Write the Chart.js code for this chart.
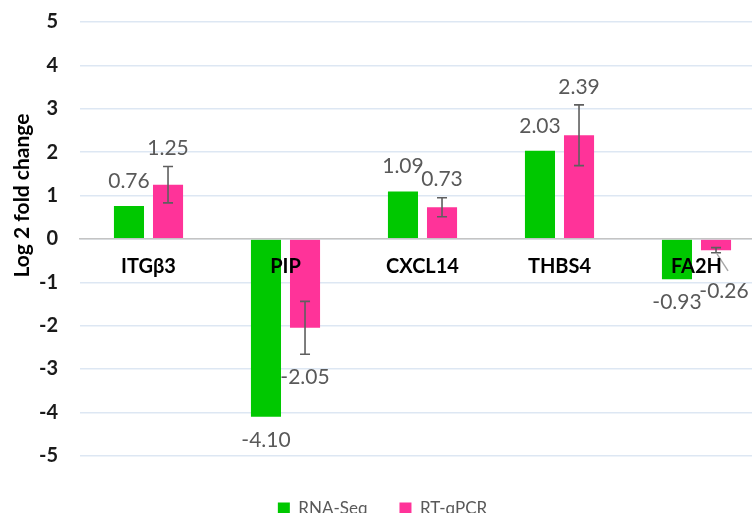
<!DOCTYPE html>
<html>
<head>
<meta charset="utf-8">
<script src="https://cdn.jsdelivr.net/npm/chart.js@4.4.1/dist/chart.umd.min.js"></script>
<style>
	body { margin: 0; background: #fff; overflow: hidden; }
	.wrap { width: 766px; height: 539px; margin-top: -12px; }
</style>
</head>
<body>
<div class="wrap"><canvas id="fold-chart" width="766" height="539"></canvas></div>
<script>
const genes = ['ITGβ3', 'PIP', 'CXCL14', 'THBS4', 'FA2H'];
const rnaSeq = [0.76, -4.10, 1.09, 2.03, -0.93];
const rtqPcr = [1.25, -2.05, 0.73, 2.39, -0.26];
const rtqPcrError = [0.42, 0.61, 0.22, 0.70, 0.06];
const yTicks = [5, 4, 3, 2, 1, 0, -1, -2, -3, -4, -5];
const yTitle = 'Log 2 fold change';

const FONT = 'Lato';
const labelGrey = '#595959';

// error whiskers for the qPCR series
const errorBars = {
	id: 'errorBars',
	afterDatasetsDraw(chart) {
		const { ctx, scales: { y } } = chart;
		const meta = chart.getDatasetMeta(1);
		ctx.save();
		ctx.strokeStyle = '#5f5f5f';
		ctx.lineWidth = 1.6;
		meta.data.forEach((bar, i) => {
			const v = rtqPcr[i];
			const e = rtqPcrError[i];
			const top = y.getPixelForValue(v + e);
			const bot = y.getPixelForValue(v - e);
			ctx.beginPath();
			ctx.moveTo(bar.x, top);
			ctx.lineTo(bar.x, bot);
			ctx.moveTo(bar.x - 5, top);
			ctx.lineTo(bar.x + 5, top);
			ctx.moveTo(bar.x - 5, bot);
			ctx.lineTo(bar.x + 5, bot);
			ctx.stroke();
		});
		ctx.restore();
	},
};

// value labels past the end of each bar (or its whisker)
const valueLabels = {
	id: 'valueLabels',
	afterDatasetsDraw(chart, args, opts) {
		const { ctx, scales: { y } } = chart;
		ctx.save();
		ctx.font = `21px ${FONT}`;
		ctx.fillStyle = labelGrey;
		ctx.textAlign = 'center';
		ctx.textBaseline = 'middle';
		chart.data.datasets.forEach((ds, d) => {
			const meta = chart.getDatasetMeta(d);
			meta.data.forEach((bar, i) => {
				const v = ds.data[i];
				const err = d === 1 ? rtqPcrError[i] : 0;
				let x = bar.x;
				let ly;
				if (v >= 0) {
					ly = y.getPixelForValue(v + err) - (err ? 18 : 25);
				} else {
					ly = y.getPixelForValue(v - err) + 23;
				}
				const nudge = (opts.nudges || []).find((n) => n.dataset === d && n.index === i);
				if (nudge) {
					const startY = y.getPixelForValue(v - err);
					x += nudge.dx;
					ly += nudge.dy;
					// leader line back to the whisker
					ctx.save();
					ctx.strokeStyle = '#a6a6a6';
					ctx.lineWidth = 1.4;
					ctx.beginPath();
					ctx.moveTo(bar.x + 1, startY + 1);
					ctx.lineTo(bar.x + 12, ly - 20);
					ctx.stroke();
					ctx.restore();
				}
				ctx.fillText(v.toFixed(2), x, ly);
			});
		});
		ctx.restore();
	},
};

// rotated y title, sitting a bit above the middle of the axis
const axisTitle = {
	id: 'axisTitle',
	afterDraw(chart) {
		const { ctx, chartArea } = chart;
		const cy = chartArea.top + (chartArea.bottom - chartArea.top) * 0.4;
		ctx.save();
		ctx.translate(22, cy);
		ctx.rotate(-Math.PI / 2);
		ctx.font = `bold 21px ${FONT}`;
		ctx.fillStyle = '#000';
		ctx.textAlign = 'center';
		ctx.textBaseline = 'middle';
		ctx.fillText(yTitle, 0, 0);
		ctx.restore();
	},
};

new Chart(document.getElementById('fold-chart'), {
	type: 'bar',
	data: {
		labels: genes,
		datasets: [
			{
				label: 'RNA-Seq',
				data: rnaSeq,
				backgroundColor: '#00c800',
				borderWidth: 0,
				categoryPercentage: 0.57,
				barPercentage: 0.77,
			},
			{
				label: 'RT-qPCR',
				data: rtqPcr,
				backgroundColor: '#ff3399',
				borderWidth: 0,
				categoryPercentage: 0.57,
				barPercentage: 0.77,
			},
		],
	},
	options: {
		responsive: false,
		animation: false,
		devicePixelRatio: 1,
		layout: {
			padding: { top: 9, right: 1, left: 0, bottom: 0 },
		},
		plugins: {
			tooltip: { enabled: false },
			legend: {
				position: 'bottom',
				title: {
					display: true,
					text: '',
					font: { size: 1 },
					padding: { top: 8, bottom: 3 },
				},
				labels: {
					boxWidth: 12,
					boxHeight: 12,
					padding: 32,
					color: labelGrey,
					font: { family: FONT, size: 17 },
				},
			},
			valueLabels: {
				nudges: [{ dataset: 1, index: 4, dx: 8, dy: 15 }],
			},
		},
		scales: {
			x: {
				position: { y: 0 },
				grid: { display: false, drawTicks: false },
				border: { display: true, color: '#c4c4c4', width: 1.5, z: 1 },
				ticks: {
					z: 2,
					padding: 16,
					color: '#000',
					font: { family: FONT, size: 20, weight: 'bold' },
				},
			},
			y: {
				min: -5,
				max: 5,
				afterFit(scale) {
					scale.width = 80;
				},
				afterBuildTicks(scale) {
					scale.ticks = yTicks.map((value) => ({ value }));
				},
				grid: { color: '#dde7f3', lineWidth: 1.5, drawTicks: false },
				border: { display: false },
				ticks: {
					padding: 22,
					color: '#1a1a1a',
					font: { family: FONT, size: 20, weight: 'bold' },
				},
			},
		},
	},
	plugins: [errorBars, valueLabels, axisTitle],
});
</script>
</body>
</html>
